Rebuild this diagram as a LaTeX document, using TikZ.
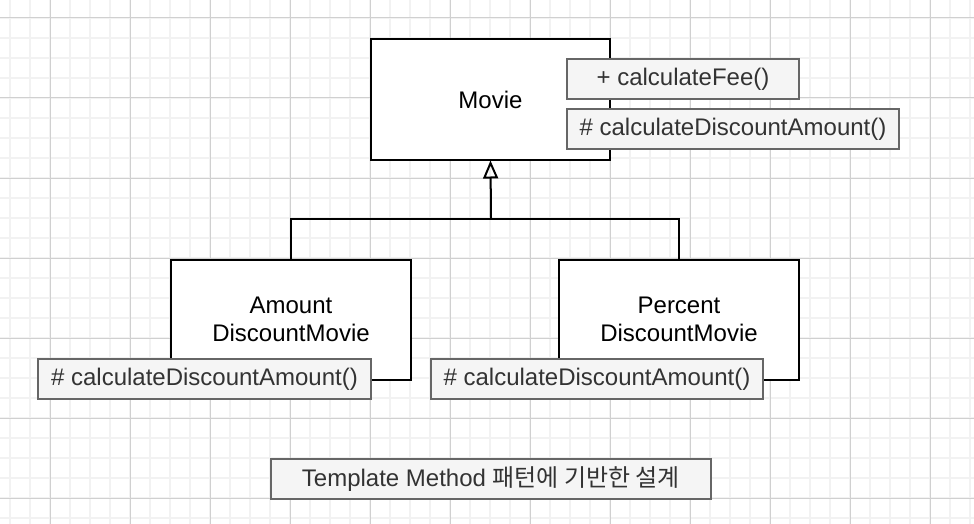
\documentclass[tikz,border=0pt]{standalone}
\usepackage{fontspec}
\setmainfont{Liberation Sans}
\newfontfamily\krfont{Noto Sans CJK KR}
\usetikzlibrary{arrows.meta}
\definecolor{gridminor}{HTML}{F2F2F2}
\definecolor{gridmajor}{HTML}{D0D0D0}
\definecolor{mfill}{HTML}{F5F5F5}
\definecolor{mstroke}{HTML}{666666}
\definecolor{mtext}{HTML}{333333}
\tikzset{
  classbox/.style={draw=black, line width=2pt, fill=white, inner sep=0pt, align=center,
    font=\fontsize{24}{27.5}\selectfont},
  methodbox/.style={draw=mstroke, line width=2pt, fill=mfill, text=mtext, inner sep=0pt,
    minimum height=40pt, font=\fontsize{24}{27.5}\selectfont},
  conn/.style={draw=black, line width=2pt},
}
\begin{document}
\begin{tikzpicture}[x=1pt,y=-1pt]
\useasboundingbox (0,0) rectangle (974,524);
\fill[white] (0,0) rectangle (974,524);
% grid
\foreach \x in {10,30,...,970} \draw[gridminor, line width=1.5pt] (\x,0) -- (\x,524);
\foreach \y in {18,38,...,518} \draw[gridminor, line width=1.5pt] (0,\y) -- (974,\y);
\foreach \x in {50,130,...,930} \draw[gridmajor, line width=1pt] (\x,0) -- (\x,524);
\foreach \y in {18,98,...,498} \draw[gridmajor, line width=1pt] (0,\y) -- (974,\y);
% class boxes
\node[classbox, minimum width=239pt, minimum height=120pt] (movie) at (490.5,99.5) {Movie};
\node[classbox, minimum width=240pt, minimum height=120pt] (amount) at (291,319.5) {Amount\\DiscountMovie};
\node[classbox, minimum width=240pt, minimum height=120pt] (pct) at (679,319.5) {Percent\\DiscountMovie};
% connectors
\coordinate (j) at (491,218.5);
\draw[conn] (amount.north) |- (j);
\draw[conn] (pct.north) |- (j);
\draw[conn, -{Triangle[open, length=18pt, width=15pt, line width=2pt]}] (j) -- (movie.south);
% method boxes
\node[methodbox, minimum width=232pt] (fee) at (683,79.5) {+ calculateFee()};
\node[methodbox, minimum width=332pt] (mdisc) at (733,129) {\# calculateDiscountAmount()};
\node[methodbox, minimum width=333pt] (adisc) at (204.5,379) {\# calculateDiscountAmount()};
\node[methodbox, minimum width=332pt] (pdisc) at (597,379) {\# calculateDiscountAmount()};
% caption
\node[methodbox, minimum width=440pt, minimum height=40pt] (cap) at (491,479) {Template Method {\krfont 패턴에 기반한 설계}};
\end{tikzpicture}
\end{document}
